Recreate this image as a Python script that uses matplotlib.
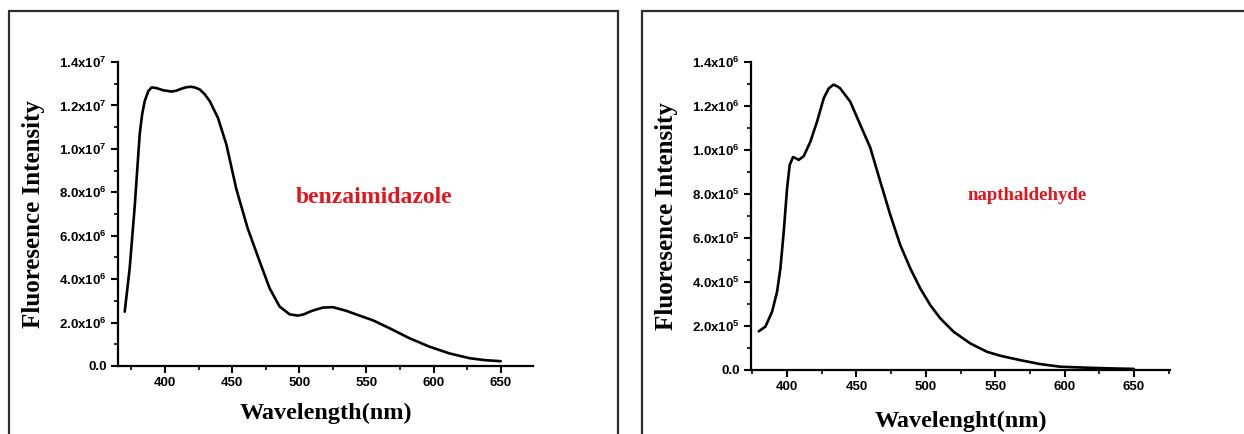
import matplotlib
matplotlib.use("Agg")
import matplotlib.pyplot as plt
from matplotlib.patches import Rectangle
from matplotlib.ticker import FixedLocator, MultipleLocator, FixedFormatter

# ── Style ─────────────────────────────────────────────────────────────────────
LINE_COLOR  = "#000000"
LABEL_COLOR = "#e3141b"
FRAME_COLOR = "#2e2e2e"
W, H, DPI   = 1244, 434, 100

plt.rcParams.update({
    "font.family":       "Liberation Sans",
    "font.weight":       "bold",
    "mathtext.fontset":  "custom",
    "mathtext.rm":       "Liberation Sans:bold",
    "mathtext.default":  "rm",
    "axes.linewidth":    1.6,
    "xtick.direction":   "out",
    "ytick.direction":   "out",
    "xtick.major.size":  5,
    "ytick.major.size":  5,
    "xtick.minor.size":  3,
    "ytick.minor.size":  3,
    "xtick.major.width": 1.5,
    "ytick.major.width": 1.5,
    "xtick.minor.width": 1.2,
    "ytick.minor.width": 1.2,
    "xtick.labelsize":   9.5,
    "ytick.labelsize":   9.5,
})
# ─────────────────────────────────────────────────────────────────────────────

# benzaimidazole emission spectrum
benz_wl = [370, 373.7, 377.5, 379.5, 381.2, 383, 384.9, 387.5, 390, 393.6,
           398.5, 404.8, 408.5, 412.2, 416, 419.6, 422.5, 425.8, 429.5, 433.3,
           439.4, 445.7, 453.1, 461.5, 470.5, 477.9, 485.3, 492.8, 499, 503.5,
           507.7, 512.5, 517.6, 525, 535, 544.9, 555, 567.2, 582, 596.9,
           611.8, 626.7, 638, 647.8, 650]
benz_int = [2.5e6, 4.5e6, 7.4e6, 9.2e6, 1.07e7, 1.16e7, 1.22e7, 1.265e7, 1.283e7, 1.28e7,
            1.27e7, 1.264e7, 1.268e7, 1.277e7, 1.284e7, 1.286e7, 1.282e7, 1.274e7, 1.252e7, 1.22e7,
            1.143e7, 1.02e7, 8.15e6, 6.35e6, 4.81e6, 3.58e6, 2.74e6, 2.38e6, 2.32e6, 2.38e6,
            2.5e6, 2.6e6, 2.69e6, 2.71e6, 2.54e6, 2.32e6, 2.1e6, 1.74e6, 1.28e6, 8.9e5,
            5.8e5, 3.6e5, 2.7e5, 2.3e5, 2.2e5]

# napthaldehyde emission spectrum
nap_wl = [379.6, 384.4, 389.2, 392.8, 395.2, 397.6, 400, 401.9, 404.3, 406.5,
          408.4, 412, 416.8, 421.6, 426.4, 430, 433.5, 436, 438.3, 445.5,
          452.8, 460, 467.2, 474.4, 481.6, 488.8, 496, 503.2, 510.4, 520,
          532, 544, 553.5, 567.9, 582.3, 596.7, 618.3, 635, 650]
nap_int = [1.76e5, 1.97e5, 2.65e5, 3.56e5, 4.62e5, 6.29e5, 8.26e5, 9.32e5, 9.68e5, 9.62e5,
           9.55e5, 9.72e5, 1.038e6, 1.129e6, 1.235e6, 1.28e6, 1.297e6, 1.29e6, 1.28e6, 1.22e6,
           1.114e6, 1.01e6, 8.56e5, 7.05e5, 5.68e5, 4.62e5, 3.71e5, 2.95e5, 2.35e5, 1.74e5,
           1.21e5, 8.3e4, 6.5e4, 4.5e4, 2.7e4, 1.5e4, 1.0e4, 7e3, 5e3]

x_ticks = [400, 450, 500, 550, 600, 650]

benz_yticks = [0, 2e6, 4e6, 6e6, 8e6, 1.0e7, 1.2e7, 1.4e7]
benz_ylabels = ["0.0", "2.0x10$^{6}$", "4.0x10$^{6}$", "6.0x10$^{6}$",
                "8.0x10$^{6}$", "1.0x10$^{7}$", "1.2x10$^{7}$", "1.4x10$^{7}$"]

nap_yticks = [0, 2e5, 4e5, 6e5, 8e5, 1.0e6, 1.2e6, 1.4e6]
nap_ylabels = ["0.0", "2.0x10$^{5}$", "4.0x10$^{5}$", "6.0x10$^{5}$",
               "8.0x10$^{5}$", "1.0x10$^{6}$", "1.2x10$^{6}$", "1.4x10$^{6}$"]


def px_box(x0, y0, x1, y1):
    """Pixel box (top-left origin) -> figure fraction [left, bottom, width, height]."""
    return [x0 / W, 1 - y1 / H, (x1 - x0) / W, (y1 - y0) / H]


def draw_panel(fig, rect, wl, inten, xlim, yticks, ylabels, xlabel, xpad,
               name, name_xy, name_size):
    ax = fig.add_axes(rect)
    ax.plot(wl, inten, color=LINE_COLOR, linewidth=1.9,
            solid_joinstyle="round", solid_capstyle="round")
    ax.set_xlim(*xlim)
    ax.set_ylim(yticks[0], yticks[-1])
    ax.xaxis.set_major_locator(FixedLocator(x_ticks))
    ax.xaxis.set_minor_locator(MultipleLocator(25))
    ax.yaxis.set_major_locator(FixedLocator(yticks))
    ax.yaxis.set_major_formatter(FixedFormatter(ylabels))
    ax.yaxis.set_minor_locator(MultipleLocator(yticks[1] / 2))
    ax.spines["top"].set_visible(False)
    ax.spines["right"].set_visible(False)
    ax.tick_params(axis="both", which="both", pad=3)
    ax.set_xlabel(xlabel, family="Liberation Serif", fontweight="bold",
                  fontsize=17.5, labelpad=xpad)
    ax.set_ylabel("Fluoresence Intensity", family="Liberation Serif",
                  fontweight="bold", fontsize=18, labelpad=10)
    ax.text(name_xy[0], name_xy[1], name, transform=ax.transAxes,
            family="Liberation Serif", fontweight="bold", fontsize=name_size,
            color=LABEL_COLOR, ha="center", va="center")
    return ax


fig = plt.figure(figsize=(W / DPI, H / DPI), dpi=DPI)

# framed boxes around each panel
for x0, x1 in [(9, 618), (642, 1250)]:
    fig.add_artist(Rectangle((x0 / W, -0.05), (x1 - x0) / W, 1 - 11 / H + 0.05,
                             transform=fig.transFigure, fill=False,
                             edgecolor=FRAME_COLOR, linewidth=1.6, clip_on=False))

ax1 = draw_panel(fig, px_box(118, 62, 533, 366), benz_wl, benz_int, (365, 674),
                 benz_yticks, benz_ylabels, "Wavelength(nm)", 10,
                 "benzaimidazole", (0.617, 0.555), 17)
ax2 = draw_panel(fig, px_box(751, 62, 1170, 370), nap_wl, nap_int, (374, 676),
                 nap_yticks, nap_ylabels, "Wavelenght(nm)", 13,
                 "napthaldehyde", (0.66, 0.567), 13.5)

fig.savefig("out.png", dpi=DPI)
